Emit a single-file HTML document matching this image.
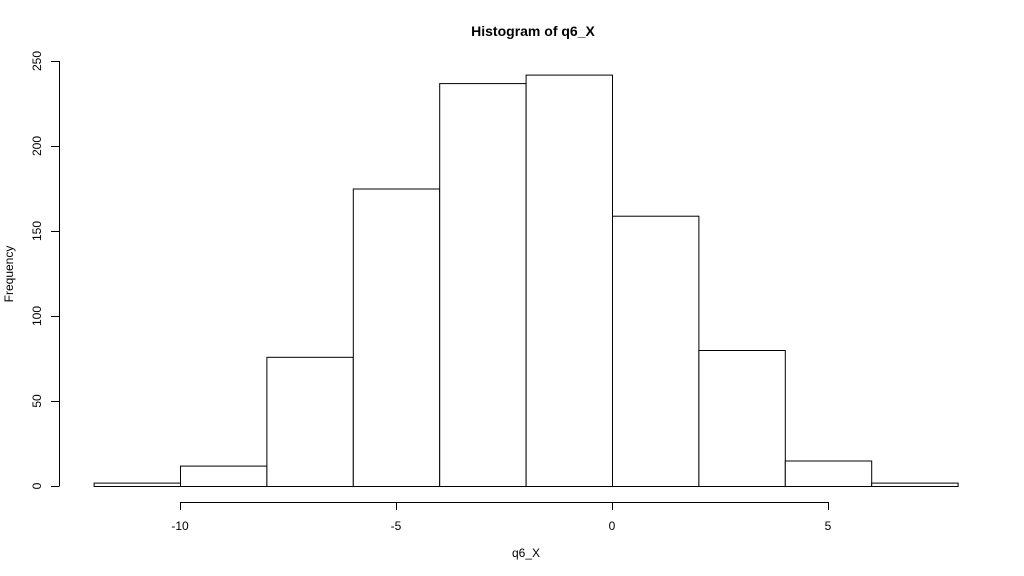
<!DOCTYPE html>
<html><head><meta charset="utf-8"><style>body{margin:0;background:#fff}svg{display:block}text{font-family:"Liberation Sans",Arial,sans-serif;font-size:12px;fill:#000}</style></head>
<body>
<svg width="1024" height="576" viewBox="0 0 1024 576">
<text x="533" y="36" text-anchor="middle" style="font-weight:bold;font-size:14px">Histogram of q6_X</text>
<text x="526" y="557" text-anchor="middle">q6_X</text>
<text transform="translate(13,274) rotate(-90)" text-anchor="middle">Frequency</text>
<g id="bars"></g>
<g id="xaxis"></g>
<g id="yaxis"></g>
</svg>
<script>
const binEdges=[-12,-10,-8,-6,-4,-2,0,2,4,6,8];
const counts=[2,12,76,175,237,242,159,80,15,2];
const xTicks=[-10,-5,0,5];
const yTicks=[0,50,100,150,200,250];
const NS="http://www.w3.org/2000/svg";
function x(v){return 612+(v-0)*43.2;}
function y(v){return 486-v*1.7;}
function mk(t,a,p){const e=document.createElementNS(NS,t);for(const k in a)e.setAttribute(k,a[k]);p.appendChild(e);return e;}
const bars=document.getElementById('bars');
for(let i=0;i<counts.length;i++){
 const r=mk('rect',{x:x(binEdges[i])+0.5,y:y(counts[i])+0.5,width:x(binEdges[i+1])-x(binEdges[i]),height:y(0)-y(counts[i]),fill:'#fff',stroke:'#000','stroke-width':1},bars);
 
 
}
const xa=document.getElementById('xaxis');
mk('line',{x1:x(xTicks[0]),x2:x(xTicks[xTicks.length-1]),y1:502.5,y2:502.5,stroke:'#000'},xa);
xTicks.forEach(t=>{mk('line',{x1:x(t)+0.5,x2:x(t)+0.5,y1:502,y2:510,stroke:'#000'},xa);const l=mk('text',{x:x(t),y:530,'text-anchor':'middle'},xa);l.textContent=t;

});
const ya=document.getElementById('yaxis');
mk('line',{x1:59.5,x2:59.5,y1:y(yTicks[0]),y2:y(yTicks[yTicks.length-1]),stroke:'#000'},ya);
yTicks.forEach(t=>{mk('line',{x1:51,x2:59.5,y1:y(t)+0.5,y2:y(t)+0.5,stroke:'#000'},ya);const l=mk('text',{transform:`translate(41,${y(t)}) rotate(-90)`,'text-anchor':'middle'},ya);l.textContent=t;

});
</script>
</body></html>
